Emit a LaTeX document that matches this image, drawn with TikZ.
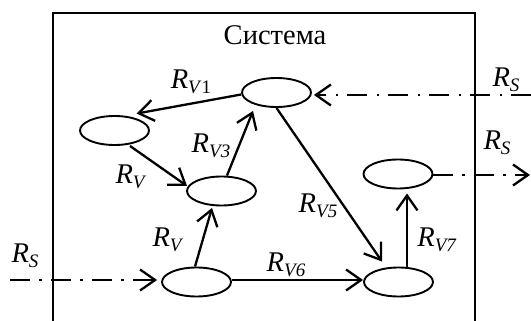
\documentclass[tikz,border=0pt]{standalone}
\usepackage{fontspec}
\setmainfont{Liberation Serif}
\usetikzlibrary{arrows.meta,shapes.geometric}
\newcommand\Rlab[1]{\textit{R}\raisebox{-5.5pt}{\fontsize{19}{19}\selectfont #1}}
\begin{document}
\begin{tikzpicture}[x=1pt,y=-1pt,
  st/.style={draw, ellipse, minimum width=69pt, minimum height=29pt, inner sep=0pt, line width=1.9pt},
  arr/.style={line width=2.3pt, -{Straight Barb[length=15pt,width=21pt,line width=2.3pt]}},
  ext/.style={arr, dash pattern=on 20pt off 9pt on 2.5pt off 9.5pt},
  lab/.style={inner sep=0pt, font=\fontsize{28.5}{31}\selectfont}
]
\useasboundingbox (0,0) rectangle (531,321);
\draw[line width=2pt] (52.5,321) -- (52.5,13) -- (474.5,13) -- (474.5,321);
\node[lab] (title) at (275,35) {Система};

\node[st] (l)  at (114.5,130.5) {};
\node[st] (t)  at (276.5,92.5) {};
\node[st] (m)  at (221.5,191) {};
\node[st] (bl) at (196.5,282) {};
\node[st] (br) at (398.5,282) {};
\node[st] (rm) at (398,174) {};

\coordinate (inR) at (531,95);
\coordinate (outR) at (530,175);
\coordinate (inL) at (10,280);

\draw[arr] ([yshift=-2pt]t.west) -- ([xshift=-3pt,yshift=6pt]l.north east);
\draw[arr] ([xshift=15.5pt]l.south) -- ([xshift=1pt,yshift=5pt]m.west);
\draw[arr] ([xshift=5.5pt]m.north) -- ([xshift=-23.5pt,yshift=-3pt]t.south);
\draw[arr] (t.south) -- ([xshift=-16.5pt,yshift=5pt]br.north);
\draw[arr] ([xshift=-1.5pt]bl.north) -- ([xshift=-9.5pt,yshift=-1.5pt]m.south);
\draw[arr] ([yshift=2pt]bl.east) -- ([yshift=2pt]br.west);
\draw[arr] ([xshift=8.5pt]br.north) -- ([xshift=9pt,yshift=-4pt]rm.south);

\draw[ext] (inR) -- ([xshift=2pt,yshift=-2.5pt]t.east);
\draw[ext] ([yshift=-1pt]rm.east) -- (outR);
\draw[ext] (inL) -- ([xshift=-4pt,yshift=2pt]bl.west);

\node[lab] (r1) at (191,82) {\Rlab{\textit{V}1}};
\node[lab] (r2) at (131,177) {\Rlab{\textit{V}}};
\node[lab] (r3) at (211,146) {\Rlab{\textit{V3}}};
\node[lab] (r5) at (318,206) {\Rlab{\textit{V5}}};
\node[lab] (r4) at (168,240) {\Rlab{\textit{V}}};
\node[lab] (r6) at (286,265) {\Rlab{\textit{V6}}};
\node[lab] (r7) at (437,240) {\Rlab{\textit{V7}}};
\node[lab] (s1) at (506,80) {\Rlab{\textit{S}}};
\node[lab] (s2) at (497,143) {\Rlab{\textit{S}}};
\node[lab] (s3) at (25,256) {\Rlab{\textit{S}}};
\end{tikzpicture}
\end{document}
